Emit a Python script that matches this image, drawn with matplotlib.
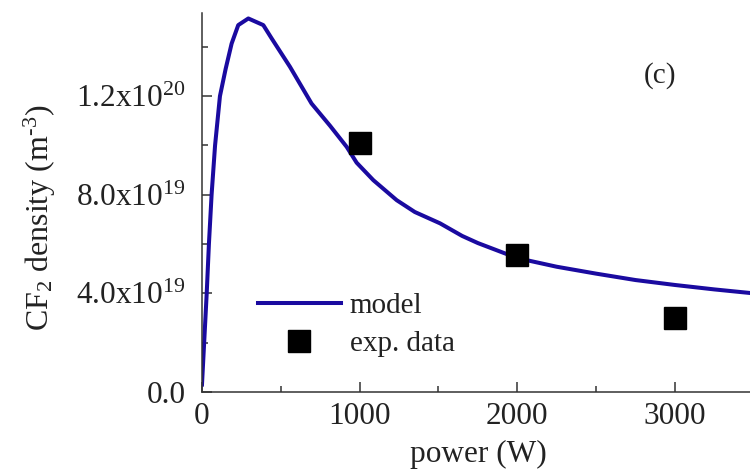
import numpy as np
import matplotlib
matplotlib.use("Agg")
import matplotlib.pyplot as plt

plt.rcParams['font.family'] = ['Liberation Serif', 'DejaVu Serif']
plt.rcParams['mathtext.fontset'] = 'custom'
plt.rcParams['mathtext.rm'] = 'Liberation Serif'
plt.rcParams['mathtext.it'] = 'Liberation Serif:italic'
plt.rcParams['mathtext.default'] = 'regular'

# model curve, CF2 density vs power
model_power = [0, 30, 44, 61, 83, 114, 150, 188, 230, 294, 389, 442, 558,
               695, 812, 918, 981, 1087, 1235, 1350, 1510, 1650, 1750, 2000,
               2250, 2500, 2750, 3000, 3250, 3500]
model_density = [0.3e19, 4.0e19, 6.0e19, 8.0e19, 1.0e20, 1.2e20, 1.31e20,
                 1.413e20, 1.488e20, 1.515e20, 1.488e20, 1.434e20, 1.319e20,
                 1.17e20, 1.08e20, 0.994e20, 0.93e20, 0.859e20, 0.778e20,
                 0.73e20, 0.684e20, 0.633e20, 0.604e20, 0.543e20, 0.508e20,
                 0.48e20, 0.454e20, 0.434e20, 0.416e20, 0.40e20]

# measurements
exp_power = [1000, 2000, 3000]
exp_density = [1.01e20, 0.555e20, 0.30e20]

y_ticks = [0, 4e19, 8e19, 1.2e20]
y_ticklabels = ['0.0', r'4.0x10$^{19}$', r'8.0x10$^{19}$', r'1.2x10$^{20}$']
x_ticks = [0, 1000, 2000, 3000]
x_ticklabels = ['0', '1000', '2000', '3000']

fig = plt.figure(figsize=(7.5, 4.7), dpi=100)
ax = fig.add_axes([0.2693, 0.166, 0.7307, 0.806])

ax.plot(model_power, model_density, color='#1a0aa0', lw=2.9, label='model')
ax.plot(exp_power, exp_density, 'ks', ms=16, label='exp. data')

ax.set_xlim(0, 3476)
ax.set_ylim(0, 1.5365e20)

ax.set_xticks(x_ticks)
ax.set_xticklabels(x_ticklabels)
ax.set_xticks([500, 1500, 2500], minor=True)
ax.set_yticks(y_ticks)
ax.set_yticklabels(y_ticklabels)
ax.set_yticks([2e19, 6e19, 1e20, 1.4e20], minor=True)

ax.tick_params(which='both', direction='in', colors='#333333', labelcolor='#222222',
               labelsize=22.5, width=1.1)
ax.tick_params(which='major', length=7)
ax.tick_params(which='minor', length=4.5)
ax.tick_params(axis='y', pad=12)
ax.tick_params(axis='x', pad=7)

for s in ['top', 'right']:
    ax.spines[s].set_visible(False)
for s in ['left', 'bottom']:
    ax.spines[s].set_color('#333333')
    ax.spines[s].set_linewidth(1.1)

ax.set_xlabel('power (W)', fontsize=22.5, color='#222222')
ax.set_ylabel(r'CF$_2$ density (m$^{\text{-}3}$)', fontsize=23, color='#222222')
ax.xaxis.set_label_coords(0.504, -0.127)
ax.yaxis.set_label_coords(-0.263, 0.459)

ax.text(0.835, 0.836, '(c)', transform=ax.transAxes, fontsize=21,
        ha='center', va='center', color='#222222')

ax.legend(loc='upper left', bbox_to_anchor=(0.102, 0.262), frameon=False,
          fontsize=21, handlelength=2.85, handletextpad=0.3, labelspacing=0.4,
          borderpad=0, borderaxespad=0, labelcolor='#222222')

fig.savefig('out.png', dpi=100)
